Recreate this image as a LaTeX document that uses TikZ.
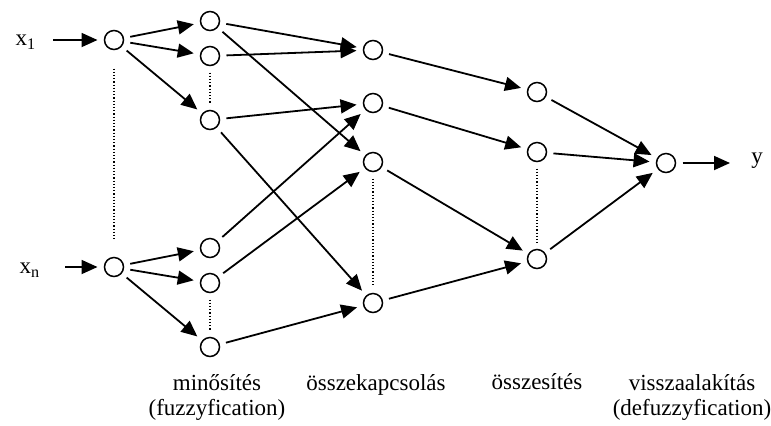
\documentclass[tikz,border=0pt]{standalone}
\usepackage{fontspec}
\setmainfont{Liberation Serif}
\usetikzlibrary{arrows.meta}

\begin{document}
\begin{tikzpicture}
[%%%%%%%%%%%%%%%%%%%%%%%%%%%%%%
x=0.5pt,y=-0.5pt,
neuron/.style={circle,draw=black,line width=0.75pt,minimum size=9.5pt,inner sep=0pt,outer sep=3.5pt},
arr/.style={-{Triangle[length=8pt,width=7pt]},line width=0.9pt},
dots/.style={densely dotted,line width=0.6pt},
lbl/.style={font=\fontsize{11.5}{12.5}\selectfont,align=center,inner sep=0pt},
]%%%%%%%%%%%%%%%%%%%%%%%%%%%%%%
\useasboundingbox (0,0) rectangle (771,425);

% inputs
\node[lbl] (x1) at (26,42){x\textsubscript{1}};
\node[lbl] (xn) at (30,270){x\textsubscript{n}};
\coordinate (a1) at (53,40);
\coordinate (an) at (65,267);
\node[neuron] (i1) at (114,40){};
\node[neuron] (in) at (114,267){};

% fuzzification
\node[neuron] (f1) at (210,21){};
\node[neuron] (f2) at (210,56){};
\node[neuron] (f3) at (210,120){};
\node[neuron] (f4) at (210,248){};
\node[neuron] (f5) at (210,283){};
\node[neuron] (f6) at (210,347){};

% rules
\node[neuron] (r1) at (373,50){};
\node[neuron] (r2) at (373,103){};
\node[neuron] (r3) at (373,162){};
\node[neuron] (r4) at (373,303){};

% aggregation
\node[neuron] (s1) at (537,92){};
\node[neuron] (s2) at (537,152){};
\node[neuron] (s3) at (537,259){};

% output
\node[neuron] (o) at (666,163){};
\coordinate (b) at (730,163);
\node[lbl] (y) at (757,161){y};

\draw[arr] (a1) -- (i1);
\draw[arr] (an) -- (in);
\foreach \f in {f1,f2,f3}
\draw[arr] (i1) -- (\f);
\foreach \f in {f4,f5,f6}
\draw[arr] (in) -- (\f);

\draw[arr] (f1) -- (r1);
\draw[arr] (f1) -- (r3);
\draw[arr] (f2) -- (r1);
\draw[arr] (f3) -- (r2);
\draw[arr] (f3) -- (r4);
\draw[arr] (f4) -- (r2);
\draw[arr] (f5) -- (r3);
\draw[arr] (f6) -- (r4);

\draw[arr] (r1) -- (s1);
\draw[arr] (r2) -- (s2);
\draw[arr] (r3) -- (s3);
\draw[arr] (r4) -- (s3);

\foreach \s in {s1,s2,s3}
\draw[arr] (\s) -- (o);
\draw[arr] (o) -- (b);

% dotted gaps
\draw[dots,shorten <=6pt,shorten >=6pt] (i1) -- (in);
\draw[dots] (f2) -- (f3);
\draw[dots] (f5) -- (f6);
\draw[dots] (r3) -- (r4);
\draw[dots] (s2) -- (s3);

% layer names
\node[lbl] (l1) at (217,397){minősítés\\(fuzzyfication)};
\node[lbl] (l2) at (376,385){összekapcsolás};
\node[lbl] (l3) at (537,382){összesítés};
\node[lbl] (l4) at (692,397){visszaalakítás\\(defuzzyfication)};
\end{tikzpicture}
\end{document}
